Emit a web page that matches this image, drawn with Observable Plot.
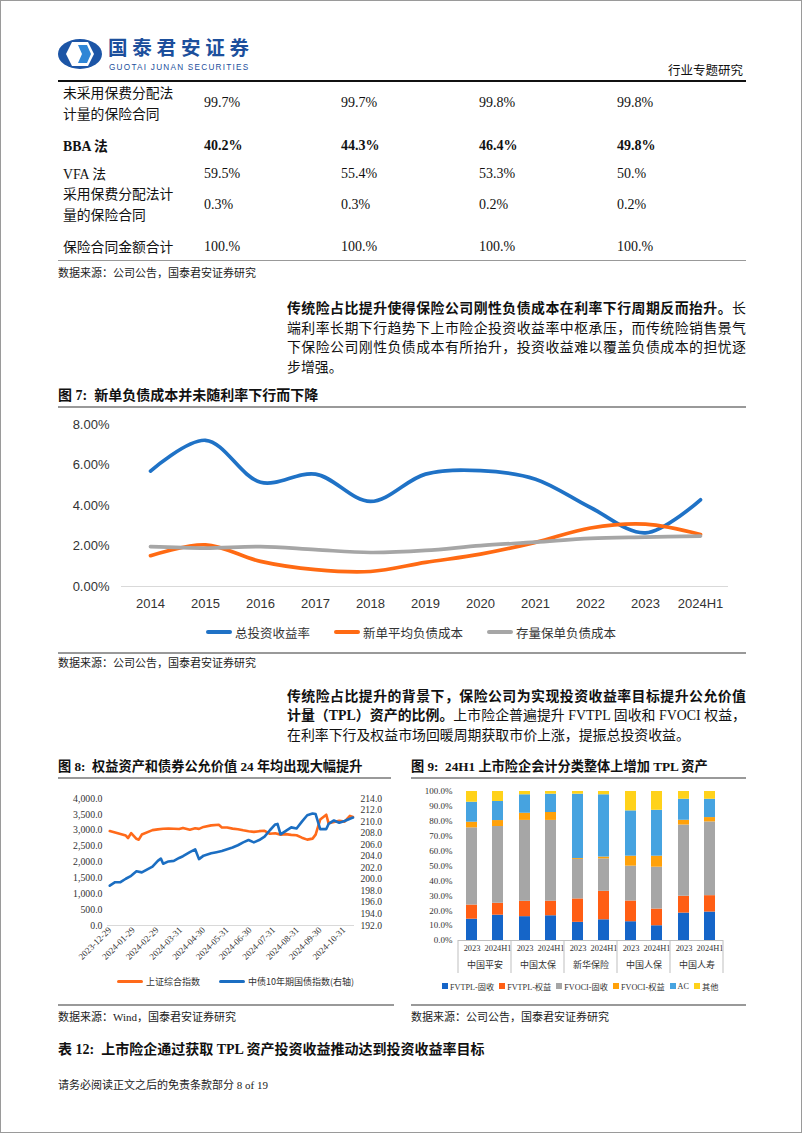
<!DOCTYPE html>
<html><head><meta charset="utf-8">
<script src="https://cdn.jsdelivr.net/npm/d3@7"></script>
<script src="https://cdn.jsdelivr.net/npm/@observablehq/plot@0.6"></script>
<style>
html,body{margin:0;padding:0;background:#fff;}
#page{position:relative;width:802px;height:1133px;overflow:hidden;font-family:"Liberation Serif","Noto Sans CJK SC",serif;color:#111;box-sizing:border-box;border:1px solid #9a9a9a;}
.abs{position:absolute;white-space:nowrap;}
.rule{position:absolute;height:0;}
.b{font-weight:bold;}
.jl{text-align:justify;text-align-last:justify;width:459px;}
.src{font-size:11px;color:#222;}
.leg7{position:absolute;display:flex;align-items:center;font-family:"Noto Sans CJK SC",sans-serif;font-size:12.5px;color:#333;}
.leg7 .sw{display:inline-block;width:26px;height:3.5px;border-radius:2px;margin-right:3px;}
.leg9 .sq{display:inline-block;width:6px;height:6px;margin-right:2px;}
</style></head>
<body><div id="page"></div>
<script>
// ---------- data ----------
const tableRowLabels = [["未采用保费分配法","计量的保险合同"],["BBA 法"],["VFA 法"],["采用保费分配法计","量的保险合同"],["保险合同金额合计"]];
const tableValues = [["99.7%","99.7%","99.8%","99.8%"],["40.2%","44.3%","46.4%","49.8%"],["59.5%","55.4%","53.3%","50.%"],["0.3%","0.3%","0.2%","0.2%"],["100.%","100.%","100.%","100.%"]];

const years7 = ["2014","2015","2016","2017","2018","2019","2020","2021","2022","2023","2024H1"];
const series7 = ["总投资收益率","新单平均负债成本","存量保单负债成本"];
const totalInvestYield = [5.70,7.22,5.15,5.55,4.20,5.55,5.72,5.30,3.90,2.65,4.28];
const newBizCost = [1.52,2.06,1.24,0.83,0.74,1.19,1.60,2.18,2.89,3.08,2.57];
const inforceCost = [1.97,1.90,1.97,1.82,1.68,1.78,2.02,2.19,2.38,2.44,2.49];
const yTicks7 = [0,2,4,6,8];

const sseDates = ["2023-12-29","2024-01-05","2024-01-12","2024-01-19","2024-01-22","2024-01-26","2024-02-02","2024-02-05","2024-02-09","2024-02-23","2024-03-01","2024-03-08","2024-03-15","2024-03-22","2024-03-29","2024-04-03","2024-04-12","2024-04-19","2024-04-24","2024-04-30","2024-05-10","2024-05-20","2024-05-24","2024-05-31","2024-06-07","2024-06-14","2024-06-21","2024-06-28","2024-07-05","2024-07-12","2024-07-19","2024-07-26","2024-08-02","2024-08-09","2024-08-16","2024-08-23","2024-08-30","2024-09-06","2024-09-13","2024-09-20","2024-09-24","2024-09-30","2024-10-08","2024-10-11","2024-10-18","2024-10-25","2024-11-01","2024-11-08","2024-11-12"];
const sseValues = [2975,2929,2882,2832,2756,2910,2730,2702,2865,3004,3027,3046,3054,3048,3041,3074,3019,3065,3044,3105,3154,3171,3089,3087,3051,3033,2998,2967,2950,2971,2982,2890,2905,2862,2879,2855,2842,2766,2704,2736,2863,3336,3489,3217,3261,3300,3272,3452,3421];
const bondDates = ["2023-12-29","2024-01-05","2024-01-12","2024-01-19","2024-01-26","2024-02-02","2024-02-09","2024-02-23","2024-03-01","2024-03-05","2024-03-08","2024-03-15","2024-03-22","2024-03-29","2024-04-03","2024-04-12","2024-04-19","2024-04-24","2024-04-30","2024-05-10","2024-05-17","2024-05-24","2024-05-31","2024-06-07","2024-06-14","2024-06-21","2024-06-28","2024-07-05","2024-07-12","2024-07-19","2024-07-26","2024-08-02","2024-08-05","2024-08-09","2024-08-16","2024-08-23","2024-08-30","2024-09-06","2024-09-13","2024-09-20","2024-09-24","2024-09-30","2024-10-08","2024-10-11","2024-10-18","2024-10-25","2024-11-01","2024-11-08","2024-11-12"];
const bondValues = [198.9,199.5,199.5,200.1,200.6,201.4,201.2,202.2,203.2,203.6,202.7,203.1,203.2,203.7,204.0,204.7,205.2,203.5,204.1,204.5,204.7,204.9,205.2,205.5,205.9,206.4,206.8,206.4,206.8,207.4,208.5,209.5,209.6,207.8,208.4,209.0,208.8,210.0,211.1,211.4,211.3,208.7,208.7,209.6,210.2,209.8,210.1,210.5,210.7];
const xTickDates8 = ["2023-12-29","2024-01-29","2024-02-29","2024-03-31","2024-04-30","2024-05-31","2024-06-30","2024-07-31","2024-08-31","2024-09-30","2024-10-31"];
const leftTicks8 = [0,500,1000,1500,2000,2500,3000,3500,4000];
const rightTicks8 = [192,194,196,198,200,202,204,206,208,210,212,214];
const series8 = ["上证综合指数","中债10年期国债指数(右轴)"];

const companies9 = ["中国平安","中国太保","新华保险","中国人保","中国人寿"];
const periods9 = ["2023","2024H1"];
const categories9 = ["FVTPL-固收","FVTPL-权益","FVOCI-固收","FVOCI-权益","AC","其他"];
const fvtplFixed  = [14.3,17.0,16.0,16.6,12.2,13.9,12.6, 9.9,18.4,19.1];
const fvtplEquity = [ 9.5, 8.0,10.3, 9.8,15.7,19.1,13.9,11.2,11.3,11.0];
const fvociFixed  = [51.8,51.5,54.3,54.2,26.5,21.8,23.4,28.1,47.8,49.5];
const fvociEquity = [ 3.8, 4.0, 4.8, 5.3, 0.6, 1.2, 6.7, 7.4, 3.2, 2.9];
const acValues    = [13.4,12.8,12.4,12.3,43.2,41.8,30.4,30.8,14.1,12.3];
const otherValues = [ 7.2, 6.7, 2.2, 1.8, 1.8, 2.2,13.0,12.6, 5.2, 5.2];
const yTicks9 = [0,10,20,30,40,50,60,70,80,90,100];

// ---------- styles ----------
const colors7 = ["#1F72C6","#FF6A13","#A6A6A6"];
const colors8 = ["#FF6A1A","#1B6EC2"];
const colors9 = ["#1565C8","#FF5E14","#A6A6A6","#FFA10A","#46A3E0","#FFD21A"];
const SERIF = '"Liberation Serif","Noto Sans CJK SC",serif';
const NARROW = '"Liberation Sans Narrow","Arial Narrow","Liberation Sans",sans-serif';

const page = document.getElementById("page");
function add(html, style, cls) {
  const d = document.createElement("div");
  d.className = "abs " + (cls || "");
  d.innerHTML = html;
  Object.assign(d.style, style);
  page.appendChild(d);
  return d;
}
function rule(x1, x2, y, w, c) {
  const d = document.createElement("div");
  d.className = "rule";
  Object.assign(d.style, {left: x1 + "px", width: (x2 - x1) + "px", top: (y - w / 2) + "px", borderTop: w + "px solid " + c});
  page.appendChild(d);
}
function line(html, x, y, size, extra, cls) {
  const lh = Math.round(size * 1.4);
  return add(html, Object.assign({left: x + "px", top: (y - lh / 2) + "px", fontSize: size + "px", lineHeight: lh + "px"}, extra || {}), cls);
}

// ---------- header ----------
add(`<svg width="44" height="30" viewBox="0 0 44 30">
  <ellipse cx="22" cy="15" rx="22" ry="15" fill="#1C55A6"/>
  <polygon points="14,3 30,3 36,15 30,27 14,27 8,15" fill="#fff"/>
  <polygon points="20,6 29,6 33,15 29,24 20,24 24,15" fill="#2F86D6"/>
</svg>`, {left: "57px", top: "38px"});
line("国泰君安证券", 107, 46, 19.5, {color: "#1C4F9C", fontFamily: '"Noto Sans CJK SC",sans-serif', fontWeight: "bold", letterSpacing: "4.8px", lineHeight: "20px", top: "36px"});
line("GUOTAI JUNAN SECURITIES", 108, 66.5, 8.2, {color: "#1C4F9C", fontFamily: '"Liberation Sans",sans-serif', letterSpacing: "1.25px", lineHeight: "9px", top: "62px"});
line("行业专题研究", 667, 70, 12.5, {color: "#111"});
rule(57, 745, 79.5, 2, "#111");

// ---------- table ----------
const rowY = [[92,113],[145],[173],[193,214],[246]];
const valY = [102,145,173,204,246];
const colX = [203,340,478,616];
tableRowLabels.forEach((lab, i) => {
  lab.forEach((t, j) => line(t, 62, rowY[i][j], 13.8, {fontWeight: i === 1 ? "bold" : "normal"}));
  tableValues[i].forEach((v, k) => line(v, colX[k], valY[i], 14, {fontWeight: i === 1 ? "bold" : "normal"}));
});
rule(57, 745, 260, 1.5, "#999");
line("数据来源：公司公告，国泰君安证券研究", 57, 272, 11, {}, "src");

// ---------- paragraph 1 ----------
line('<span class="b">传统险占比提升使得保险公司刚性负债成本在利率下行周期反而抬升。</span>长', 286, 307, 13.9, {}, "jl");
line("端利率长期下行趋势下上市险企投资收益率中枢承压，而传统险销售景气", 286, 327, 13.9, {}, "jl");
line("下保险公司刚性负债成本有所抬升，投资收益难以覆盖负债成本的担忧逐", 286, 346, 13.9, {}, "jl");
line("步增强。", 286, 366, 13.9);

// ---------- figure 7 ----------
line("图 7:&nbsp; 新单负债成本并未随利率下行而下降", 57, 395, 14, {fontWeight: "bold"});
rule(57, 745, 406, 2, "#999");

const data7 = [];
years7.forEach((yr, i) => {
  data7.push({year: yr, series: series7[0], v: totalInvestYield[i]});
  data7.push({year: yr, series: series7[1], v: newBizCost[i]});
  data7.push({year: yr, series: series7[2], v: inforceCost[i]});
});
const chart7 = Plot.plot({
  width: 688, height: 200,
  marginTop: 10, marginBottom: 28, marginLeft: 63, marginRight: 18,
  style: {fontFamily: NARROW, fontSize: "13px", color: "#333", background: "transparent"},
  x: {type: "point", domain: years7, padding: 0.5, label: null},
  y: {domain: [0, 8], label: null},
  color: {domain: series7, range: colors7},
  marks: [
    Plot.ruleY([0], {stroke: "#D9D9D9", strokeWidth: 1}),
    Plot.axisY({ticks: yTicks7, tickFormat: d => d.toFixed(2) + "%", tickSize: 0, tickPadding: 12, label: null, fontSize: 13}),
    Plot.axisX({tickSize: 0, tickPadding: 12, label: null, fontSize: 13}),
    Plot.lineY(data7, {x: "year", y: "v", stroke: "series", z: "series", strokeWidth: 3.7, curve: "catmull-rom"})
  ]
});
add("", {left: "57px", top: "413px"}).appendChild(chart7);

const leg7 = document.createElement("div");
leg7.className = "leg7";
Object.assign(leg7.style, {left: "205px", top: "622px", height: "18px"});
leg7.innerHTML = series7.map((s, i) => `<span style="display:inline-flex;align-items:center;margin-right:24px"><span class="sw" style="background:${colors7[i]}"></span>${s}</span>`).join("");
page.appendChild(leg7);

rule(57, 745, 652, 2, "#999");
line("数据来源：公司公告，国泰君安证券研究", 57, 662, 11, {}, "src");

// ---------- paragraph 2 ----------
line('<span class="b">传统险占比提升的背景下，保险公司为实现投资收益率目标提升公允价值</span>', 286, 695, 13.9, {}, "jl");
line('<span class="b">计量（TPL）资产的比例。</span>上市险企普遍提升 FVTPL 固收和 FVOCI 权益，', 286, 714, 13.9, {}, "jl");
line("在利率下行及权益市场回暖周期获取市价上涨，提振总投资收益。", 286, 734, 13.9);

// ---------- figure 8 ----------
line("图 8:&nbsp; 权益资产和债券公允价值 24 年均出现大幅提升", 57, 766, 13.2, {fontWeight: "bold"});
rule(57, 390, 777, 2, "#999");

const parse = d3.utcParse("%Y-%m-%d");
const sse = sseDates.map((d, i) => ({date: parse(d), v: sseValues[i]}));
const bond = bondDates.map((d, i) => ({date: parse(d), v: bondValues[i]}));
const toLeft = b => (b - 192) * 4000 / 22;
const toRight = l => 192 + l * 22 / 4000;
const chart8 = Plot.plot({
  width: 333, height: 180,
  marginTop: 10, marginBottom: 43, marginLeft: 49, marginRight: 37,
  style: {fontFamily: SERIF, fontSize: "9.6px", color: "#333", background: "transparent"},
  x: {type: "utc", domain: [parse("2023-12-26"), parse("2024-11-14")], label: null},
  y: {domain: [0, 4000], label: null},
  marks: [
    Plot.ruleY([0], {stroke: "#D9D9D9"}),
    Plot.axisY({ticks: leftTicks8, tickFormat: d => d3.format(",.1f")(d), tickSize: 0, tickPadding: 5, label: null, fontSize: 9.8}),
    Plot.axisY({anchor: "right", ticks: rightTicks8.map(toLeft), tickFormat: d => toRight(d).toFixed(1), tickSize: 0, tickPadding: 6, label: null, fontSize: 9.6}),
    Plot.axisX({ticks: xTickDates8.map(parse), tickFormat: d3.utcFormat("%Y-%m-%d"), tickRotate: -45, tickSize: 0, tickPadding: 3, label: null, fontSize: 9}),
    Plot.lineY(sse, {x: "date", y: "v", stroke: colors8[0], strokeWidth: 2.6}),
    Plot.lineY(bond, {x: "date", y: d => toLeft(d.v), stroke: colors8[1], strokeWidth: 2.6})
  ]
});
add("", {left: "57px", top: "787px"}).appendChild(chart8);

const leg8 = document.createElement("div");
leg8.className = "leg7";
Object.assign(leg8.style, {left: "116px", top: "972px", height: "16px", fontSize: "9px"});
leg8.innerHTML = series8.map((s, i) => `<span style="display:inline-flex;align-items:center;margin-right:${i === 0 ? 19 : 0}px"><span class="sw" style="width:26px;height:3px;background:${colors8[i]}"></span>${s}</span>`).join("");
page.appendChild(leg8);

rule(57, 393, 1004, 2, "#999");
line("数据来源：Wind，国泰君安证券研究", 57, 1016, 11, {}, "src");

// ---------- figure 9 ----------
line("图 9:&nbsp; 24H1 上市险企会计分类整体上增加 TPL 资产", 410, 766, 13.2, {fontWeight: "bold"});
rule(410, 745, 777, 2, "#999");

const catArrays = [fvtplFixed, fvtplEquity, fvociFixed, fvociEquity, acValues, otherValues];
const data9 = [];
companies9.forEach((c, i) => periods9.forEach((p, j) => {
  categories9.forEach((cat, k) => data9.push({company: c, period: p, cat, v: catArrays[k][i * 2 + j]}));
}));
const chart9 = Plot.plot({
  width: 335, height: 196,
  marginTop: 10, marginBottom: 37, marginLeft: 46, marginRight: 22,
  style: {fontFamily: SERIF, fontSize: "9px", color: "#333", background: "transparent"},
  fx: {domain: companies9, padding: 0, label: null},
  x: {domain: periods9, paddingInner: 0.5875, paddingOuter: 0.294, label: null},
  y: {domain: [0, 100], label: null},
  color: {domain: categories9, range: colors9},
  marks: [
    Plot.barY(data9, {fx: "company", x: "period", y: "v", fill: "cat", order: categories9}),
    Plot.ruleY([0], {stroke: "#BFBFBF"}),
    Plot.axisY({ticks: yTicks9, tickFormat: d => d.toFixed(1) + "%", tickSize: 0, tickPadding: 6, label: null, fontSize: 9}),
    Plot.axisX({tickSize: 0, tickPadding: 5, label: null, fontSize: 8.4}),
    Plot.axisFx({anchor: "bottom", tickSize: 0, tickPadding: 21, label: null, fontSize: 9, fontFamily: '"Noto Sans CJK SC",sans-serif'})
  ]
});
const svg9 = chart9.tagName.toLowerCase() === "svg" ? chart9 : chart9.querySelector("svg");
const fx9 = chart9.scale("fx");
const sepX = companies9.map(c => fx9.apply(c)).concat([fx9.apply(companies9[companies9.length - 1]) + fx9.bandwidth]);
d3.select(svg9).append("g").selectAll("line").data(sepX).join("line")
  .attr("x1", d => d).attr("x2", d => d).attr("y1", 159).attr("y2", 192)
  .attr("stroke", "#BFBFBF").attr("stroke-width", 1);
add("", {left: "410px", top: "780px"}).appendChild(chart9);

const leg9 = document.createElement("div");
leg9.className = "leg7 leg9";
Object.assign(leg9.style, {left: "441px", top: "977px", height: "16px", fontSize: "8.2px", fontFamily: SERIF});
leg9.innerHTML = categories9.map((s, i) => `<span style="display:inline-flex;align-items:center;margin-right:5px"><span class="sq" style="background:${colors9[i]}"></span>${s}</span>`).join("");
page.appendChild(leg9);

rule(410, 745, 1004, 2, "#999");
line("数据来源：公司公告，国泰君安证券研究", 410, 1016, 11, {}, "src");

// ---------- bottom ----------
line("表 12:&nbsp; 上市险企通过获取 TPL 资产投资收益推动达到投资收益率目标", 57, 1049, 14, {fontWeight: "bold"});
line("请务必阅读正文之后的免责条款部分 8 of 19", 57, 1084, 11, {}, "src");
</script>
</body></html>
